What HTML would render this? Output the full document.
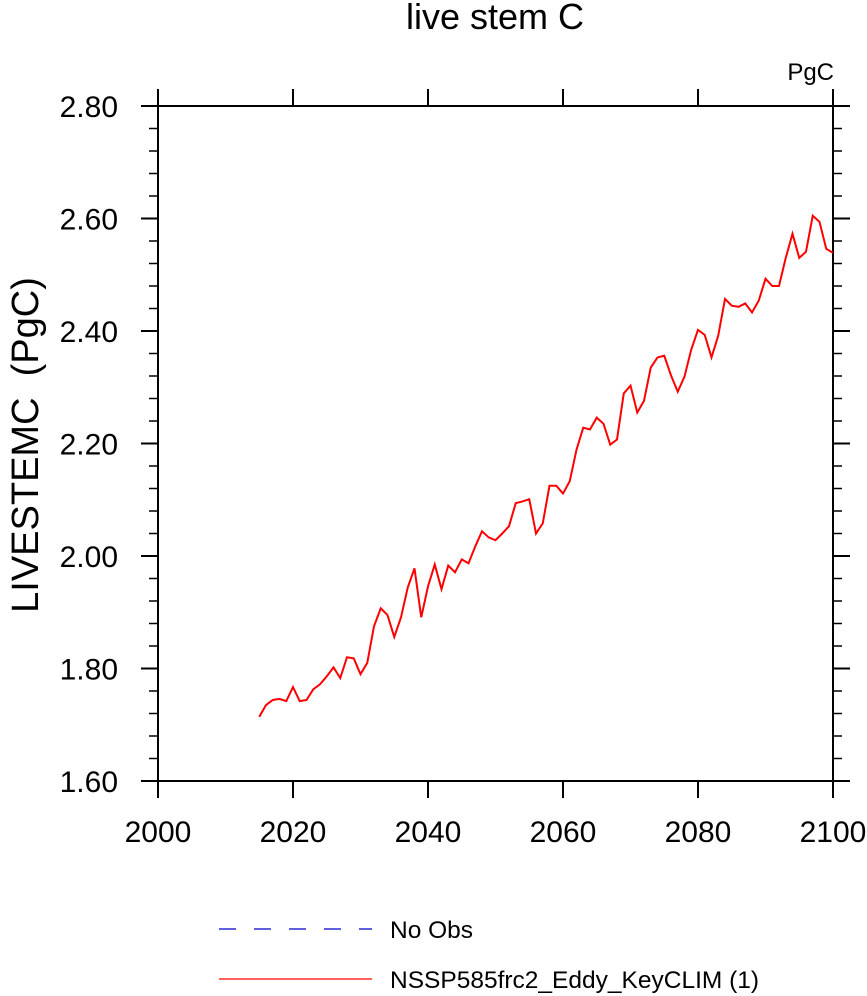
<!DOCTYPE html>
<html><head><meta charset="utf-8"><style>
html,body{margin:0;padding:0;background:#fff;}
svg{display:block;font-family:"Liberation Sans",Arial,sans-serif;}
</style></head><body>
<svg id="chart" width="867" height="996" viewBox="0 0 867 996" xmlns="http://www.w3.org/2000/svg">
<text x="495" y="29" font-size="36" text-anchor="middle">live stem C</text>
<text x="834" y="80" font-size="24" text-anchor="end">PgC</text>
<text transform="translate(38,445) rotate(-90)" font-size="38" text-anchor="middle" xml:space="preserve">LIVESTEMC  (PgC)</text>
<g id="axes"></g>
<path id="series" fill="none" stroke="#ff0000" stroke-width="2"/>
<g>
<line x1="219" y1="929" x2="372" y2="929" stroke="#0000cc" stroke-width="1.2" stroke-dasharray="17,18"/>
<text x="390" y="938" font-size="24.5">No Obs</text>
<line x1="219" y1="979" x2="372" y2="979" stroke="#ff0000" stroke-width="1.2"/>
<text x="390" y="988" font-size="24.5">NSSP585frc2_Eddy_KeyCLIM (1)</text>
</g>
</svg>
<script>
const startYear = 2015;
const values = [1.714,1.735,1.744,1.746,1.742,1.767,1.742,1.744,1.763,1.772,1.786,1.802,1.783,1.820,1.818,1.790,1.810,1.875,1.907,1.895,1.856,1.891,1.944,1.978,1.891,1.946,1.985,1.941,1.983,1.971,1.994,1.987,2.017,2.044,2.033,2.028,2.040,2.053,2.094,2.097,2.101,2.040,2.058,2.125,2.125,2.111,2.133,2.189,2.228,2.225,2.246,2.235,2.198,2.207,2.289,2.303,2.255,2.276,2.335,2.353,2.356,2.321,2.292,2.319,2.367,2.402,2.393,2.353,2.392,2.457,2.445,2.443,2.449,2.433,2.454,2.493,2.480,2.480,2.530,2.573,2.530,2.541,2.605,2.594,2.546,2.539];
const xTicks = [2000,2020,2040,2060,2080,2100];
const yTicks = [1.60,1.80,2.00,2.20,2.40,2.60,2.80];
const xMin=2000,xMax=2100,yMin=1.6,yMax=2.8;
const L=158,R=833,T=106,B=781;
const sx=v=>L+(v-xMin)/(xMax-xMin)*(R-L);
const sy=v=>B-(v-yMin)/(yMax-yMin)*(B-T);
const NS='http://www.w3.org/2000/svg';
const ax=document.getElementById('axes');
function mk(tag,attrs,parent){const e=document.createElementNS(NS,tag);for(const k in attrs)e.setAttribute(k,attrs[k]);(parent||ax).appendChild(e);return e;}
const frame=mk('rect',{x:L,y:T,width:R-L,height:B-T,fill:'none',stroke:'#000','stroke-width':2});


xTicks.forEach(v=>{const x=sx(v);
 const t1=mk('line',{x1:x,y1:B,x2:x,y2:B+17,stroke:'#000','stroke-width':2});
 
 
 const t2=mk('line',{x1:x,y1:T,x2:x,y2:T-17,stroke:'#000','stroke-width':2});
 
 
 const lb=mk('text',{x:x,y:B+61,'font-size':30,'text-anchor':'middle'});lb.textContent=v;
 
 
});
for(let v=yMin;v<=yMax+1e-9;v+=0.04){const y=sy(v);const major=Math.abs(Math.round(v*5)-v*5)<1e-6;const len=major?17:9;
 const a=mk('line',{x1:L,y1:y,x2:L-len,y2:y,stroke:'#000','stroke-width':major?2:1.5});
 
 
 const b=mk('line',{x1:R,y1:y,x2:R+len,y2:y,stroke:'#000','stroke-width':major?2:1.5});
 
 
}
yTicks.forEach(v=>{const lb=mk('text',{x:L-40,y:sy(v)+11,'font-size':30,'text-anchor':'end'});lb.textContent=v.toFixed(2);
 
 
});
document.getElementById('series').setAttribute('d',values.map((v,i)=>(i?'L':'M')+sx(startYear+i).toFixed(2)+','+sy(v).toFixed(2)).join(''));
</script>
</body></html>
